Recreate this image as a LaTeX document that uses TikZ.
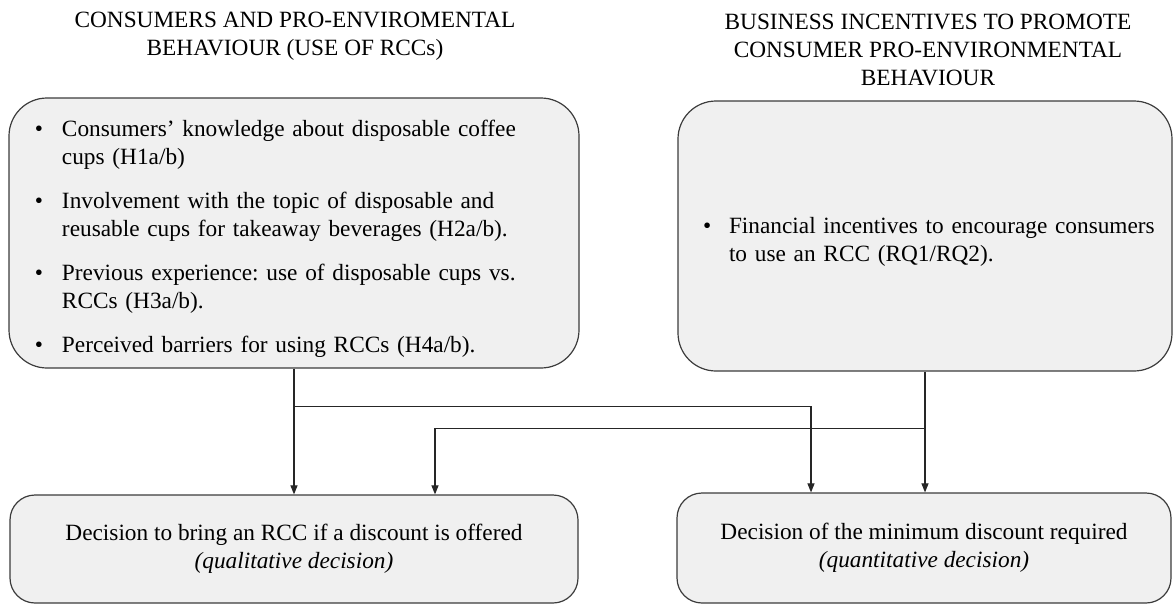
\documentclass[tikz,border=0pt]{standalone}
\usepackage{fontspec}
\setmainfont{Liberation Serif}
\usepackage{enumitem}
\usetikzlibrary{arrows.meta}
\definecolor{boxfill}{HTML}{F0F0F0}
\definecolor{boxline}{HTML}{3C3C3C}
\frenchspacing

\begin{document}
\begin{tikzpicture}[%
      x=1pt, y=-1pt,
      font=\fontsize{23.3}{28}\selectfont,
      box/.style={draw=boxline, fill=boxfill, line width=1.2pt, rounded corners=38pt, inner xsep=10pt, inner ysep=0pt},
      flow/.style={color=black!85, line width=1.1pt, -{Triangle[length=9pt,width=7pt]}},
      ]
      \useasboundingbox (0,0) rectangle (1173,605);

      \node[align=center] (consttl) at (295,36) {CONSUMERS AND PRO-ENVIROMENTAL\\BEHAVIOUR (USE OF RCCs)};
      \node[align=center] (bizttl) at (928,50) {BUSINESS INCENTIVES TO PROMOTE\\CONSUMER PRO-ENVIRONMENTAL\\BEHAVIOUR};

      \node[box, minimum width=570pt, minimum height=270pt, text width=550pt] (cons) at (294,233) {%
        \begin{itemize}[nosep, itemsep=16pt, labelindent=16pt, labelwidth=27pt, labelsep=0pt, leftmargin=43pt, align=left, label=\textbullet]
          \item Consumers’ knowledge about disposable coffee\\cups (H1a/b)
          \item Involvement with the topic of disposable and\\reusable cups for takeaway beverages (H2a/b).
          \item Previous experience: use of disposable cups vs.\\RCCs (H3a/b).
          \item Perceived barriers for using RCCs (H4a/b).
        \end{itemize}};
      \node[box, minimum width=494pt, minimum height=270pt, text width=474pt] (biz) at (925,236) {%
        \begin{itemize}[nosep, labelindent=15pt, labelwidth=26pt, labelsep=0pt, leftmargin=41pt, align=left, label=\textbullet]
          \item Financial incentives to encourage consumers\\to use an RCC (RQ1/RQ2).
        \end{itemize}};

      \node[box, rounded corners=25pt, minimum width=568pt, minimum height=108pt, align=center] (qual) at (294,549) {Decision to bring an RCC if a discount is offered\\\textit{(qualitative decision)}};
      \node[box, rounded corners=25pt, minimum width=494pt, minimum height=110pt, align=center] (quant) at (924,548) {Decision of the minimum discount required\\\textit{(quantitative decision)}};

      \draw[flow] (cons.south) -- (qual.north);
      \draw[flow] (cons.south) ++(0,38) -| ([xshift=-113pt]quant.north);
      \draw[flow] (biz.south) -- (biz.south |- quant.north);
      \draw[flow] (biz.south) ++(0,57) -| ([xshift=141pt]qual.north);
\end{tikzpicture}
\end{document}
